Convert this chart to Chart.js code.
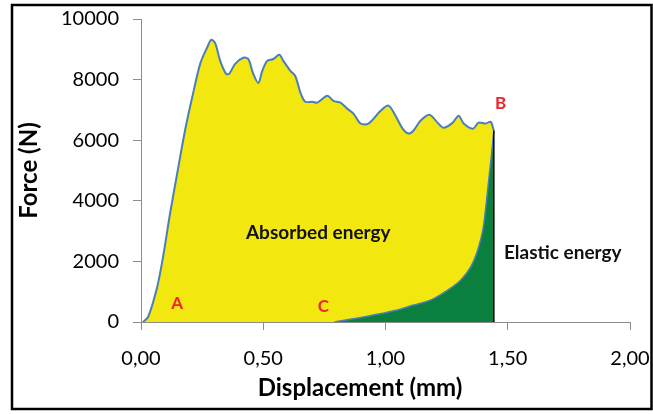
<!DOCTYPE html>
<html>
<head>
<meta charset="utf-8">
<script src="https://cdn.jsdelivr.net/npm/chart.js@4"></script>
<style>
  html, body { margin: 0; padding: 0; background: #fff; }
  canvas { display: block; }
</style>
</head>
<body>
<canvas id="grafico" width="653" height="414"></canvas>
<script>
// loading curve (O -> B)
const loadX = [0.008, 0.029, 0.066, 0.090, 0.119, 0.148, 0.180, 0.209, 0.242, 0.270, 0.287, 0.303, 0.324, 0.348, 0.361,
  0.385, 0.418, 0.439, 0.459, 0.480, 0.496, 0.516, 0.541, 0.566, 0.582, 0.611, 0.631, 0.652, 0.672, 0.701, 0.721,
  0.762, 0.787, 0.816, 0.848, 0.869, 0.898, 0.930, 0.980, 1.012, 1.041, 1.070, 1.094, 1.115, 1.143, 1.180, 1.213,
  1.238, 1.275, 1.299, 1.320, 1.357, 1.381, 1.410, 1.430, 1.443];
const loadF = [0, 165, 1150, 2140, 3590, 4900, 6320, 7400, 8520, 9050, 9310, 9210, 8620, 8190, 8190,
  8520, 8720, 8680, 8190, 7890, 8290, 8620, 8680, 8820, 8620, 8290, 8120, 7570, 7270, 7270, 7240,
  7470, 7300, 7240, 7010, 6880, 6550, 6550, 6970, 7140, 6810, 6380, 6220, 6320, 6640, 6840, 6580,
  6410, 6580, 6810, 6550, 6380, 6580, 6550, 6610, 6320];

// unloading curve (C -> B)
const unloadX = [0.791, 0.910, 1.049, 1.115, 1.184, 1.254, 1.307, 1.348, 1.377, 1.398, 1.410, 1.422, 1.434, 1.443];
const unloadF = [0, 165, 395, 560, 720, 1050, 1380, 1810, 2370, 3030, 3780, 4670, 5560, 6320];

const xTicks = [0, 0.5, 1, 1.5, 2];
const yTicks = [0, 2000, 4000, 6000, 8000, 10000];

// text notes, placed in data coordinates
const notes = [
  { text: 'A', x: 0.148, y: 620, red: true },
  { text: 'B', x: 1.471, y: 7200, red: true },
  { text: 'C', x: 0.746, y: 500, red: true },
  { text: 'Absorbed energy', x: 0.725, y: 2930 },
  { text: 'Elastic energy', x: 1.725, y: 2270 }
];

const pts = (xs, ys) => xs.map((x, i) => ({ x, y: ys[i] }));
const last = loadX.length - 1;

const FONT = 'Lato, "Open Sans", sans-serif';

const extras = {
  id: 'extras',
  afterDraw(chart) {
    const c = chart.ctx;
    const xs = chart.scales.x, ys = chart.scales.y;
    c.save();
    c.textAlign = 'center';
    c.textBaseline = 'middle';
    notes.forEach(n => {
      c.fillStyle = n.red ? '#f0222a' : '#111';
      c.font = n.red ? 'bold 17px ' + FONT : 'bold 19px ' + FONT;
      c.fillText(n.text, xs.getPixelForValue(n.x), ys.getPixelForValue(n.y));
    });
    // axis titles
    c.fillStyle = '#000';
    c.font = 'bold 24px ' + FONT;
    c.fillText('Displacement (mm)', 360, 388);
    c.translate(29, ys.getPixelForValue(5000));
    c.rotate(-Math.PI / 2);
    c.fillText('Force (N)', 0, 0);
    c.restore();
    // frame
    c.save();
    c.strokeStyle = '#000';
    c.lineWidth = 2.5;
    c.strokeRect(12, 5, 639.5, 404);
    c.restore();
  }
};

new Chart(document.getElementById('grafico').getContext('2d'), {
  type: 'line',
  data: {
    datasets: [
      {
        data: pts(loadX, loadF),
        borderColor: '#4a7ebb',
        borderWidth: 2,
        backgroundColor: '#f2e70f',
        fill: 'origin',
        tension: 0.3,
        pointRadius: 0,
        order: 3
      },
      {
        data: pts(unloadX, unloadF),
        borderColor: '#4a7ebb',
        borderWidth: 1.5,
        backgroundColor: '#0b7f3e',
        fill: 'origin',
        tension: 0.35,
        pointRadius: 0,
        order: 2
      },
      {
        data: [{ x: loadX[last], y: loadF[last] }, { x: loadX[last], y: 0 }],
        borderColor: '#000',
        borderWidth: 1.5,
        fill: false,
        pointRadius: 0,
        order: 1
      }
    ]
  },
  options: {
    responsive: false,
    animation: false,
    layout: { padding: { left: 0, right: 23, top: 19, bottom: 0 } },
    plugins: { legend: { display: false }, tooltip: { enabled: false } },
    scales: {
      x: {
        type: 'linear',
        min: 0, max: 2,
        afterBuildTicks: s => { s.ticks = xTicks.map(v => ({ value: v })); },
        afterFit: s => { s.height = 92; s.paddingLeft = 0; s.paddingRight = 0; },
        ticks: {
          color: '#000',
          font: { family: FONT, size: 20 },
          padding: 17,
          maxRotation: 0,
          callback: v => v.toFixed(2).replace('.', ',')
        },
        grid: { drawOnChartArea: false, tickLength: 8, color: '#8c8c8c' },
        border: { color: '#8c8c8c', width: 1 }
      },
      y: {
        min: 0, max: 10000,
        afterBuildTicks: s => { s.ticks = yTicks.map(v => ({ value: v })); },
        afterFit: s => { s.width = 141; s.paddingTop = 0; s.paddingBottom = 0; },
        ticks: {
          color: '#000',
          font: { family: FONT, size: 20 },
          padding: 14,
          callback: v => String(v)
        },
        grid: { drawOnChartArea: false, tickLength: 8, color: '#8c8c8c' },
        border: { color: '#8c8c8c', width: 1 }
      }
    }
  },
  plugins: [extras]
});
</script>
</body>
</html>
